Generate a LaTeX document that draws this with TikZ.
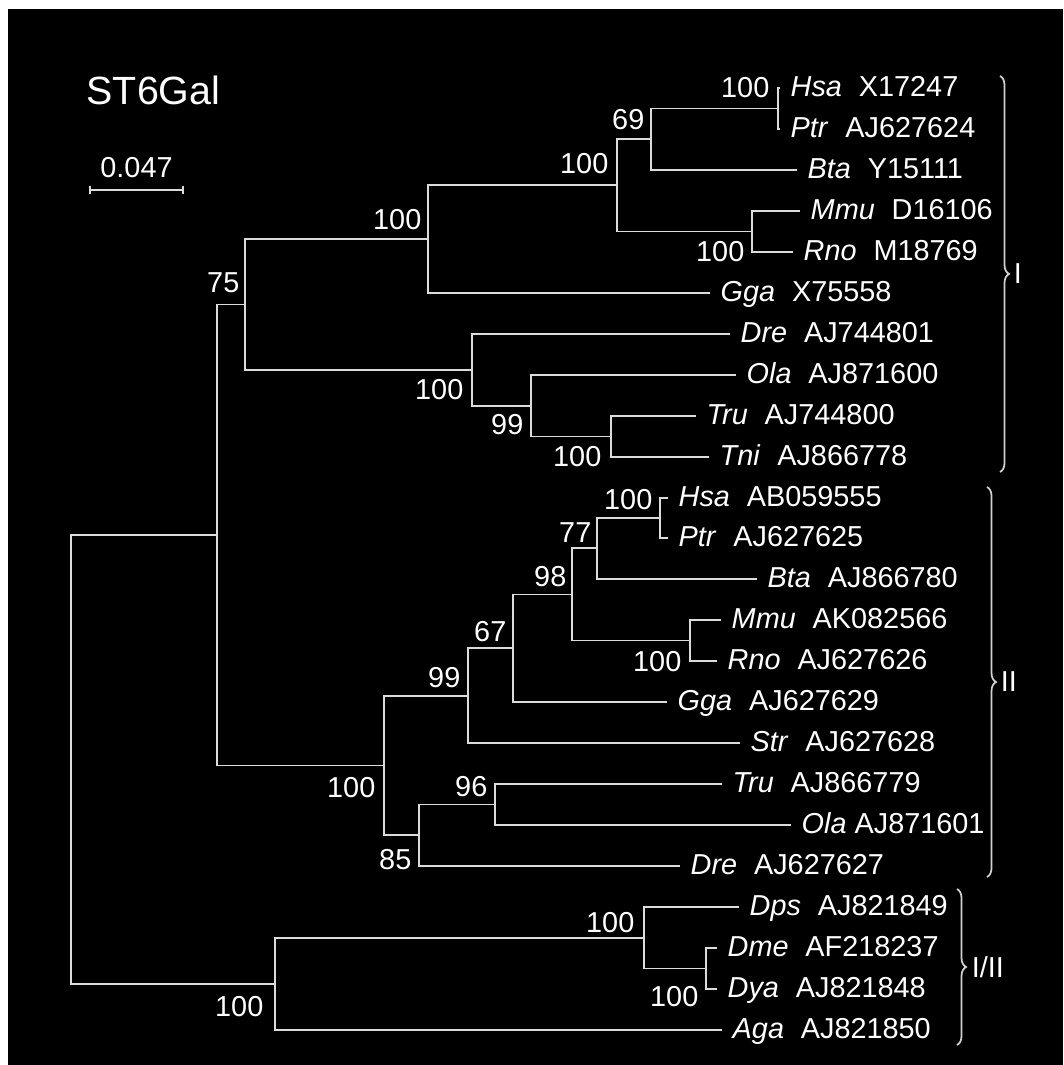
\documentclass[tikz,border=0pt]{standalone}
\usepackage{fontspec}
\setmainfont{Liberation Sans}
\usepackage{tikz}
\usetikzlibrary{arrows.meta, positioning, decorations.pathreplacing}
\newcommand{\taxon}[2]{\textit{#1}\hspace{4.8pt}#2}

\begin{document}
\begin{tikzpicture}[
    x=0.01cm, y=-0.01cm,
    branch/.style={draw=black!14, line width=0.5pt},
    leaf/.style={anchor=west, text=white, font=\fontsize{8.2}{9}\selectfont, inner xsep=0.1cm, inner ysep=0pt, text height=5.8pt, text depth=1.2pt},
    boot/.style={anchor=east, text=white, font=\fontsize{8.2}{9}\selectfont, inner sep=0pt},
    group/.style={draw=black!18, line width=0.5pt, decorate, decoration={brace, amplitude=0.09cm}},
    grouplabel/.style={anchor=west, text=white, font=\fontsize{8.2}{9}\selectfont, inner sep=0pt}
]

% Frame
\useasboundingbox (0,0) rectangle (1063,1065);
\fill[white] (0,0) rectangle (1063,1065);
\fill[black] (8,9) rectangle (1063,1065);

% Title and scale bar
\node[grouplabel, font=\fontsize{11.2}{13}\selectfont] (title) at (86,90) {ST6Gal};
\coordinate (s0) at (89,190);
\coordinate (s1) at (184,190);
\draw[branch, {Bar[width=0.08cm]}-{Bar[width=0.08cm]}] (s0) -- (s1)
    node[midway, boot, anchor=south, above=0.11cm] (scale) {0.047};

% Leaves
\node[leaf] (l0) at (780,88) {\taxon{Hsa}{X17247}};
\node[leaf] (l1) at (780,129) {\taxon{Ptr}{AJ627624}};
\node[leaf] (l2) at (797,170) {\taxon{Bta}{Y15111}};
\node[leaf] (l3) at (800,211) {\taxon{Mmu}{D16106}};
\node[leaf] (l4) at (793,252) {\taxon{Rno}{M18769}};
\node[leaf] (l5) at (710,293) {\taxon{Gga}{X75558}};
\node[leaf] (l6) at (730,334) {\taxon{Dre}{AJ744801}};
\node[leaf] (l7) at (736,375) {\taxon{Ola}{AJ871600}};
\node[leaf] (l8) at (696,416) {\taxon{Tru}{AJ744800}};
\node[leaf] (l9) at (709,457) {\taxon{Tni}{AJ866778}};
\node[leaf] (l10) at (668,498) {\taxon{Hsa}{AB059555}};
\node[leaf] (l11) at (668,538) {\taxon{Ptr}{AJ627625}};
\node[leaf] (l12) at (757,579) {\taxon{Bta}{AJ866780}};
\node[leaf] (l13) at (721,620) {\taxon{Mmu}{AK082566}};
\node[leaf] (l14) at (717,661) {\taxon{Rno}{AJ627626}};
\node[leaf] (l15) at (667,702) {\taxon{Gga}{AJ627629}};
\node[leaf] (l16) at (740,743) {\taxon{Str}{AJ627628}};
\node[leaf] (l17) at (722,784) {\taxon{Tru}{AJ866779}};
\node[leaf] (l18) at (791,825) {\textit{Ola} AJ871601};
\node[leaf] (l19) at (680,866) {\taxon{Dre}{AJ627627}};
\node[leaf] (l20) at (739,907) {\taxon{Dps}{AJ821849}};
\node[leaf] (l21) at (717,948) {\taxon{Dme}{AF218237}};
\node[leaf] (l22) at (717,989) {\taxon{Dya}{AJ821848}};
\node[leaf] (l23) at (722,1030) {\taxon{Aga}{AJ821850}};

% Internal nodes
\coordinate (nA) at (778,108.5);
\coordinate (nB) at (651,139);
\coordinate (nC) at (617,185);
\coordinate (nD) at (752,231.5);
\coordinate (nE) at (428,239);
\coordinate (nF) at (472,370);
\coordinate (nG) at (531,406);
\coordinate (nH) at (611,436.5);
\coordinate (nI) at (245,304.5);
\coordinate (nJ) at (660,518);
\coordinate (nK) at (597,548);
\coordinate (nL) at (572,594.5);
\coordinate (nM) at (690,640.5);
\coordinate (nN) at (513,648);
\coordinate (nO) at (468,696);
\coordinate (nP) at (384,765.5);
\coordinate (nQ) at (419,835);
\coordinate (nR) at (495,804.5);
\coordinate (nIII) at (217,535);
\coordinate (nS) at (706,968.5);
\coordinate (nT) at (644,938);
\coordinate (nU) at (275,984);
\coordinate (root) at (71,759.5);

% Clade I
\draw[branch] (l0.west) -| (nA) |- (l1.west);
\draw[branch] (nA) -| (nB) |- (l2.west);
\draw[branch] (l3.west) -| (nD) |- (l4.west);
\draw[branch] (nB) -| (nC) |- (nD);
\draw[branch] (nC) -| (nE) |- (l5.west);
\draw[branch] (l8.west) -| (nH) |- (l9.west);
\draw[branch] (l7.west) -| (nG) |- (nH);
\draw[branch] (l6.west) -| (nF) |- (nG);
\draw[branch] (nE) -| (nI) |- (nF);

% Clade II
\draw[branch] (l10.west) -| (nJ) |- (l11.west);
\draw[branch] (nJ) -| (nK) |- (l12.west);
\draw[branch] (l13.west) -| (nM) |- (l14.west);
\draw[branch] (nK) -| (nL) |- (nM);
\draw[branch] (nL) -| (nN) |- (l15.west);
\draw[branch] (nN) -| (nO) |- (l16.west);
\draw[branch] (l17.west) -| (nR) |- (l18.west);
\draw[branch] (nR) -| (nQ) |- (l19.west);
\draw[branch] (nO) -| (nP) |- (nQ);
\draw[branch] (nI) -| (nIII) |- (nP);

% Clade I/II and root
\draw[branch] (l21.west) -| (nS) |- (l22.west);
\draw[branch] (l20.west) -| (nT) |- (nS);
\draw[branch] (nT) -| (nU) |- (l23.west);
\draw[branch] (nIII) -| (root) |- (nU);

% Bootstrap values
\node[boot] (bA) at (770,88) {100};
\node[boot] (bB) at (645,120) {69};
\node[boot] (bC) at (609,164) {100};
\node[boot] (bD) at (745,252) {100};
\node[boot] (bE) at (422,220) {100};
\node[boot] (bF) at (464,390) {100};
\node[boot] (bG) at (524,425) {99};
\node[boot] (bH) at (602,457) {100};
\node[boot] (bI) at (240,283) {75};
\node[boot] (bJ) at (653,500) {100};
\node[boot] (bK) at (592,533) {77};
\node[boot] (bL) at (567,577) {98};
\node[boot] (bM) at (682,662) {100};
\node[boot] (bN) at (507,632) {67};
\node[boot] (bO) at (461,678) {99};
\node[boot] (bP) at (376,788) {100};
\node[boot] (bQ) at (412,860) {85};
\node[boot] (bR) at (488,787) {96};
\node[boot] (bS) at (699,997) {100};
\node[boot] (bT) at (635,923) {100};
\node[boot] (bU) at (264,1007) {100};

% Groups
\draw[group] (1000,76) -- (1000,472) node[midway, grouplabel, right=0.13cm] (gI) {I};
\draw[group] (987,487) -- (987,877) node[midway, grouplabel, right=0.13cm] (gII) {II};
\draw[group] (957,889) -- (957,1045) node[midway, grouplabel, right=0.14cm] (gIII) {I/II};

\end{tikzpicture}
\end{document}
